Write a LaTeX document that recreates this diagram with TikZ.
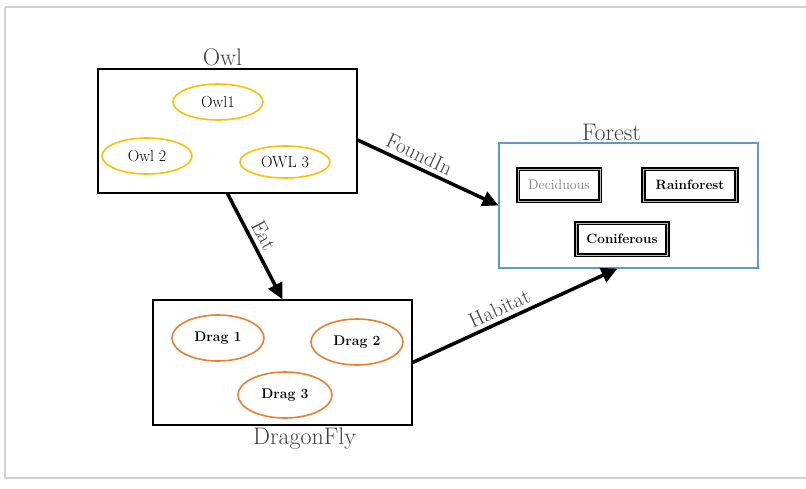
\documentclass[tikz,border=0pt]{standalone}
\usepackage{tikz}
\usepackage{xcolor}
\usetikzlibrary{calc,arrows.meta,positioning,shapes.geometric}
\definecolor{owlYellow}{RGB}{255,192,0}
\definecolor{dragOrange}{RGB}{237,125,49}
\definecolor{forestBlue}{RGB}{91,155,213}
\definecolor{labelGray}{RGB}{64,64,64}
\newcommand{\FontAt}[1]{\fontsize{#1}{#1}\selectfont}
\tikzset{
  groupBox/.style={draw=black,line width=1.3pt,inner sep=0pt},
  owlOval/.style={ellipse,draw=owlYellow,line width=1.6pt,minimum width=90pt,minimum height=36pt,inner sep=0pt,font=\FontAt{16}},
  dragOval/.style={ellipse,draw=dragOrange,line width=1.6pt,minimum width=92pt,minimum height=46pt,inner sep=0pt,font=\FontAt{14}\bfseries},
  typeBox/.style={draw=black,line width=1.7pt,double=gray!55,double distance=1pt,minimum width=82pt,minimum height=32pt,inner sep=0pt,font=\FontAt{14}},
  groupLabel/.style={text=labelGray,font=\FontAt{24},inner sep=2pt},
  relArrow/.style={line width=3.5pt,-{Triangle[length=16pt,width=15pt]}},
  relLabel/.style={text=labelGray,font=\FontAt{21},inner sep=4pt}
}
\begin{document}
\begin{tikzpicture}[x=1pt,y=-1pt]
\useasboundingbox (0,0) rectangle (806,488);
\draw[gray!35,line width=2pt] (5,7) -- (812,7) (5,7) -- (5,478) -- (812,478);

% Owl
\node[groupBox,minimum width=259pt,minimum height=124pt] (owl) at (227.5,131) {};
\node[groupLabel,anchor=south] (owlLbl) at ([xshift=-5pt]owl.north) {Owl};
\node[owlOval] (owl1) at (218,102) {Owl1};
\node[owlOval] (owl2) at (147,156) {Owl 2};
\node[owlOval,minimum height=32pt] (owl3) at (285,162) {OWL 3};

% Forest
\node[groupBox,draw=forestBlue,line width=1.1pt,minimum width=259pt,minimum height=125pt] (forest) at (628.5,205.5) {};
\node[groupLabel,anchor=south] (forestLbl) at ([xshift=-17pt]forest.north) {Forest};
\node[typeBox,text=gray] (decid) at (559,185) {Deciduous};
\node[typeBox,font=\FontAt{13.5}\bfseries,minimum width=93pt] (rainf) at (690,185) {Rainforest};
\node[typeBox,font=\FontAt{13.5}\bfseries,minimum width=91pt] (conif) at (622,239) {Coniferous};

% DragonFly
\node[groupBox,minimum width=259pt,minimum height=125pt] (dragon) at (282.5,362.5) {};
\node[groupLabel,anchor=north] (dragonLbl) at ([xshift=22pt]dragon.south) {DragonFly};
\node[dragOval] (drag1) at (218,338) {Drag 1};
\node[dragOval] (drag2) at (357,342) {Drag 2};
\node[dragOval,minimum width=94pt] (drag3) at (285,395) {Drag 3};

% relations
\draw[relArrow] ([yshift=-9pt]owl.east) -- (forest.west)
  node[relLabel,pos=0.4,above,sloped] {FoundIn};
\draw[relArrow] (owl.south) -- (dragon.north)
  node[relLabel,pos=0.45,above,sloped] {Eat};
\draw[relArrow] (dragon.east) -- ([xshift=-11pt]forest.south)
  node[relLabel,pos=0.45,above,sloped] {Habitat};
\end{tikzpicture}
\end{document}
